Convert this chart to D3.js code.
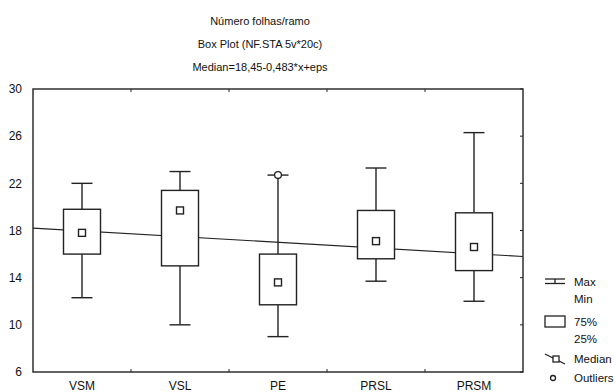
<!DOCTYPE html>
<html>
<head>
<meta charset="utf-8">
<script src="https://cdn.jsdelivr.net/npm/d3@7"></script>
<style>
  body { margin: 0; background: #fff; }
  text { font-family: "Liberation Sans", Arial, sans-serif; fill: #111; }
</style>
</head>
<body>
<script>
// data
const categories = ["VSM", "VSL", "PE", "PRSL", "PRSM"];
const maxVals = [22.0, 23.0, 22.7, 23.3, 26.3];
const q3Vals = [19.8, 21.4, 16.0, 19.7, 19.5];
const medians = [17.8, 19.7, 13.6, 17.1, 16.6];
const q1Vals = [16.0, 15.0, 11.7, 15.6, 14.6];
const minVals = [12.3, 10.0, 9.0, 13.7, 12.0];
const outlierCats = ["PE"];
const outlierVals = [22.7];
const yTicks = [6, 10, 14, 18, 22, 26, 30];
const titles = ["Número folhas/ramo", "Box Plot (NF.STA 5v*20c)", "Median=18,45-0,483*x+eps"];
const fitA = 18.45, fitB = -0.483;

let margin = { top: 89, left: 33, right: 92, bottom: 20 },
    width = 615 - margin.left - margin.right,
    height = 392 - margin.top - margin.bottom;

let svg = d3.select("body").append("svg")
    .attr("width", 615)
    .attr("height", 392);

let g = svg.append("g")
    .attr("transform", "translate(" + margin.left + "," + margin.top + ")");

let x = d3.scaleBand().domain(categories).range([0, width]);
let xNum = d3.scaleLinear().domain([0.5, 5.5]).range([0, width]);
let y = d3.scaleLinear().domain([6, 30]).range([height, 0]);

// titles
svg.selectAll(".title").data(titles).enter().append("text")
    .attr("x", 260)
    .attr("y", (d, i) => 21 + i * 23)
    .attr("dy", "0.35em")
    .attr("text-anchor", "middle")
    .style("font-size", "11px")
    .text(d => d);

// frame
g.append("rect")
    .attr("width", width).attr("height", height)
    .attr("fill", "none").attr("stroke", "#222").attr("stroke-width", 1.4);

// y labels on left
g.selectAll(".ylab").data(yTicks).enter().append("text")
    .attr("x", -11)
    .attr("y", d => y(d))
    .attr("dy", "0.35em")
    .attr("text-anchor", "end")
    .style("font-size", "12px")
    .text(d => d);

// inward ticks on right
g.selectAll(".rtick").data(yTicks).enter().append("line")
    .attr("x1", width).attr("x2", width - 3)
    .attr("y1", d => y(d)).attr("y2", d => y(d))
    .attr("stroke", "#222");

// inward ticks top/bottom at band boundaries
let bounds = categories.slice(1).map(c => x(c));
bounds.forEach(b => {
    g.append("line").attr("x1", b).attr("x2", b).attr("y1", 0).attr("y2", 3).attr("stroke", "#222");
    g.append("line").attr("x1", b).attr("x2", b).attr("y1", height).attr("y2", height - 3).attr("stroke", "#222");
});

// x labels
g.selectAll(".xlab").data(categories).enter().append("text")
    .attr("x", d => x(d) + x.bandwidth() / 2)
    .attr("y", height + 14)
    .attr("dy", "0.35em")
    .attr("text-anchor", "middle")
    .style("font-size", "12px")
    .text(d => d);

// regression line
g.append("line")
    .attr("x1", xNum(0.5)).attr("y1", y(fitA + fitB * 0.5))
    .attr("x2", xNum(5.5)).attr("y2", y(fitA + fitB * 5.5))
    .attr("stroke", "#222").attr("stroke-width", 1.2);

let boxW = 37, capW = 21, sq = 7;

categories.forEach((c, i) => {
    let cx = x(c) + x.bandwidth() / 2;
    let bg = g.append("g").attr("stroke", "#222").attr("stroke-width", 1.4).attr("fill", "none");
    bg.append("line").attr("x1", cx).attr("x2", cx).attr("y1", y(maxVals[i])).attr("y2", y(q3Vals[i]));
    bg.append("line").attr("x1", cx).attr("x2", cx).attr("y1", y(q1Vals[i])).attr("y2", y(minVals[i]));
    bg.append("line").attr("x1", cx - capW / 2).attr("x2", cx + capW / 2).attr("y1", y(maxVals[i])).attr("y2", y(maxVals[i]));
    bg.append("line").attr("x1", cx - capW / 2).attr("x2", cx + capW / 2).attr("y1", y(minVals[i])).attr("y2", y(minVals[i]));
    bg.append("rect")
        .attr("x", cx - boxW / 2).attr("width", boxW)
        .attr("y", y(q3Vals[i])).attr("height", y(q1Vals[i]) - y(q3Vals[i]))
        .attr("fill", "#fff");
    bg.append("rect")
        .attr("x", cx - sq / 2).attr("y", y(medians[i]) - sq / 2)
        .attr("width", sq).attr("height", sq).attr("fill", "#fff");
});

outlierCats.forEach((c, i) => {
    g.append("circle")
        .attr("cx", x(c) + x.bandwidth() / 2).attr("cy", y(outlierVals[i]))
        .attr("r", 3.4).attr("fill", "#fff").attr("stroke", "#222").attr("stroke-width", 1.3);
});

// legend
let lg = svg.append("g").attr("stroke", "#222").attr("stroke-width", 1.3).attr("fill", "none");
lg.append("line").attr("x1", 545).attr("x2", 565).attr("y1", 279).attr("y2", 279);
lg.append("line").attr("x1", 545).attr("x2", 565).attr("y1", 283.5).attr("y2", 283.5);
lg.append("line").attr("x1", 555).attr("x2", 555).attr("y1", 279).attr("y2", 283.5);
lg.append("rect").attr("x", 545).attr("y", 316).attr("width", 20).attr("height", 11);
lg.append("line").attr("x1", 545).attr("y1", 354).attr("x2", 565).attr("y2", 364);
lg.append("rect").attr("x", 553).attr("y", 356).attr("width", 6).attr("height", 6).attr("fill", "#fff");
lg.append("circle").attr("cx", 553).attr("cy", 378).attr("r", 2.5);

let legendText = [["Max", 282], ["Min", 299], ["75%", 322], ["25%", 339], ["Median", 359], ["Outliers", 378]];
svg.selectAll(".leg").data(legendText).enter().append("text")
    .attr("x", 574)
    .attr("y", d => d[1])
    .attr("dy", "0.35em")
    .style("font-size", "11.5px")
    .text(d => d[0]);
</script>
</body>
</html>
